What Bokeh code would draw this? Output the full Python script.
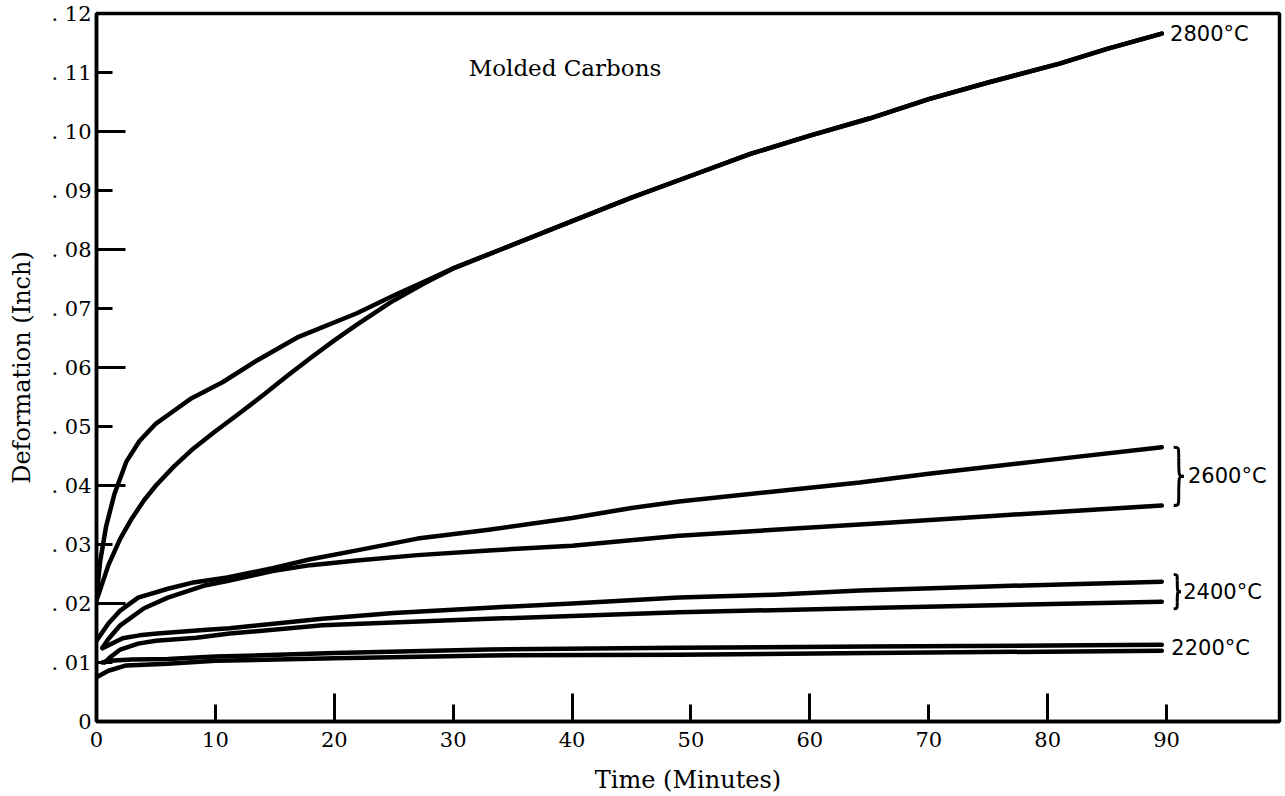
from bokeh.plotting import figure
from bokeh.models import Range1d, FixedTicker, CustomJSTickFormatter
from bokeh.core.properties import value
from bokeh.embed import file_html
from bokeh.resources import INLINE

# ---- data ----
t_2800_a = [0, 0.3, 0.8, 1.5, 2.5, 3.6, 5, 6.4, 8, 10.6, 13.5, 17, 21.9, 25, 27.5, 30, 34, 40, 45, 50, 55, 60, 65, 70, 75, 81, 85, 89.6]
d_2800_a = [0.021, 0.027, 0.033, 0.0385, 0.044, 0.0475, 0.0505, 0.0525, 0.0548, 0.0575, 0.0612, 0.0652, 0.0692, 0.0722, 0.0745, 0.0768, 0.080, 0.0848, 0.0888, 0.0925, 0.0962, 0.0993, 0.1022, 0.1055, 0.1083, 0.1115, 0.1140, 0.1166]
t_2800_b = [0, 0.5, 1, 2, 3, 4, 5, 6.5, 8, 10, 12, 14, 16, 18, 20, 22, 24.7, 27.5, 30, 34, 40, 45, 50, 55, 60, 65, 70, 75, 81, 85, 89.6]
d_2800_b = [0.0205, 0.0235, 0.0265, 0.031, 0.0345, 0.0375, 0.040, 0.0432, 0.046, 0.0492, 0.0522, 0.0553, 0.0585, 0.0616, 0.0646, 0.0674, 0.0710, 0.0742, 0.0768, 0.080, 0.0848, 0.0888, 0.0925, 0.0962, 0.0993, 0.1022, 0.1055, 0.1083, 0.1115, 0.1140, 0.1166]

t_2600_a = [0, 1, 2, 3.5, 6, 8, 11, 14.8, 18, 21.9, 27, 33, 40, 45, 49, 57, 64.2, 70, 80, 89.6]
d_2600_a = [0.0137, 0.0166, 0.0188, 0.021, 0.0225, 0.0235, 0.0244, 0.026, 0.0275, 0.029, 0.031, 0.0325, 0.0345, 0.0362, 0.0373, 0.039, 0.0405, 0.042, 0.0443, 0.0465]
t_2600_b = [0.5, 1, 2, 4, 6, 9, 11, 14.8, 18, 21.9, 27, 33, 40, 49, 57, 65.9, 75, 89.6]
d_2600_b = [0.0125, 0.014, 0.0163, 0.0192, 0.021, 0.023, 0.0238, 0.0255, 0.0265, 0.0273, 0.0282, 0.029, 0.0298, 0.0315, 0.0325, 0.0336, 0.0348, 0.0366]

t_2400_a = [0.5, 1.1, 2.2, 3.6, 5.1, 9, 11.2, 19, 25, 33, 40, 49, 57, 64.2, 75, 89.6]
d_2400_a = [0.0124, 0.013, 0.0141, 0.0146, 0.0149, 0.0155, 0.0158, 0.0174, 0.0184, 0.0193, 0.0200, 0.0210, 0.0215, 0.0222, 0.0229, 0.0237]
t_2400_b = [0.7, 1.1, 2, 3.5, 5, 8.4, 11.2, 19, 33, 49, 65.9, 89.6]
d_2400_b = [0.0100, 0.0108, 0.0122, 0.0132, 0.0137, 0.0142, 0.0149, 0.0163, 0.0174, 0.0185, 0.0193, 0.0203]

t_2200_a = [0.5, 1, 3, 6, 10, 20, 33, 49, 65, 89.6]
d_2200_a = [0.0100, 0.0103, 0.0105, 0.0106, 0.0110, 0.0116, 0.0122, 0.0125, 0.0127, 0.0130]
t_2200_b = [0, 1, 2.5, 6, 10, 20, 33, 49, 65, 89.6]
d_2200_b = [0.0075, 0.0086, 0.0095, 0.0098, 0.0103, 0.0107, 0.0112, 0.0113, 0.0116, 0.0120]

temp_labels = ["2800°C", "2600°C", "2400°C", "2200°C"]
x_ticks = [0, 10, 20, 30, 40, 50, 60, 70, 80, 90]
x_long_ticks = [20, 40, 60, 80]
y_ticks = [0, 0.01, 0.02, 0.03, 0.04, 0.05, 0.06, 0.07, 0.08, 0.09, 0.10, 0.11, 0.12]
y_long_ticks = [0.02, 0.04, 0.06, 0.08, 0.10]
title_text = "Molded Carbons"
x_title = "Time (Minutes)"
y_title = "Deformation (Inch)"

SERIF = "DejaVu Serif"
SANS = "DejaVu Sans"

p = figure(width=1285, height=796,
           x_range=Range1d(0, 99.5), y_range=Range1d(0, 0.12),
           output_backend="svg", toolbar_location=None,
           min_border_left=96, min_border_right=6,
           min_border_top=13, min_border_bottom=75)
p.background_fill_color = "white"
p.border_fill_color = "white"
p.outline_line_color = "black"
p.outline_line_width = 3.5
p.xgrid.visible = False
p.ygrid.visible = False

# x axis
xa = p.xaxis[0]
xa.ticker = FixedTicker(ticks=x_ticks, minor_ticks=x_long_ticks)
xa.axis_line_width = 3.5
xa.axis_line_color = "black"
xa.major_tick_in = 17
xa.major_tick_out = 0
xa.minor_tick_in = 28
xa.minor_tick_out = 0
xa.major_tick_line_width = 3
xa.minor_tick_line_width = 3
xa.major_tick_line_color = "black"
xa.minor_tick_line_color = "black"
xa.major_label_standoff = 10
xa.major_label_text_font = SERIF
xa.major_label_text_font_size = "21px"
xa.major_label_text_color = "black"
xa.axis_label = x_title
xa.axis_label_text_font = SERIF
xa.axis_label_text_font_style = "normal"
xa.axis_label_text_font_size = "24px"
xa.axis_label_text_color = "black"
xa.axis_label_standoff = 16

# y axis
ya = p.yaxis[0]
ya.ticker = FixedTicker(ticks=y_ticks, minor_ticks=y_long_ticks)
ya.formatter = CustomJSTickFormatter(code="""
if (Math.abs(tick) < 1e-9) { return '0'; }
return '. ' + String(Math.round(tick * 100)).padStart(2, '0');
""")
ya.axis_line_width = 3.5
ya.axis_line_color = "black"
ya.major_tick_in = 16
ya.major_tick_out = 0
ya.minor_tick_in = 29
ya.minor_tick_out = 0
ya.major_tick_line_width = 3
ya.minor_tick_line_width = 3
ya.major_tick_line_color = "black"
ya.minor_tick_line_color = "black"
ya.major_label_standoff = 5
ya.major_label_text_font = SERIF
ya.major_label_text_font_size = "21px"
ya.major_label_text_color = "black"
ya.axis_label = y_title
ya.axis_label_text_font = SERIF
ya.axis_label_text_font_style = "normal"
ya.axis_label_text_font_size = "24px"
ya.axis_label_text_color = "black"
ya.axis_label_standoff = 12

series = [(t_2800_a, d_2800_a), (t_2800_b, d_2800_b),
          (t_2600_a, d_2600_a), (t_2600_b, d_2600_b),
          (t_2400_a, d_2400_a), (t_2400_b, d_2400_b),
          (t_2200_a, d_2200_a), (t_2200_b, d_2200_b)]
for t, d in series:
    p.line(t, d, line_color="black", line_width=4.5, line_cap="round", line_join="round")

# braces for the paired curves
def brace(x0, yt, yb, w):
    xm = x0 + w / 2.0
    xt = x0 + w
    ym = (yt + yb) / 2.0
    dd = 0.18 * (yt - yb)
    p.bezier(x0=[x0, xm, xt, xm], y0=[yt, yt - dd, ym, yb + dd],
             x1=[xm, xt, xm, x0], y1=[yt - dd, ym, yb + dd, yb],
             cx0=[xm, xm, xm, xm], cy0=[yt, ym, ym, yb],
             cx1=[xm, xm, xm, xm], cy1=[yt, ym, ym, yb],
             line_color="black", line_width=3)

brace(t_2600_a[-1] + 1.0, d_2600_a[-1], d_2600_b[-1], 0.85)
brace(t_2400_a[-1] + 1.0, d_2400_a[-1] + 0.0012, d_2400_b[-1] - 0.0012, 0.6)

# temperature labels
lx = [t_2800_a[-1] + 0.7, t_2600_a[-1] + 2.2, t_2400_a[-1] + 1.8, t_2200_a[-1] + 0.8]
ly = [d_2800_a[-1],
      (d_2600_a[-1] + d_2600_b[-1]) / 2.0,
      (d_2400_a[-1] + d_2400_b[-1]) / 2.0,
      (d_2200_a[-1] + d_2200_b[-1]) / 2.0]
p.text(x=lx, y=ly, text=temp_labels, text_font=value(SANS), text_font_size="21px",
       text_align="left", text_baseline="middle", text_color="black")

p.text(x=[31.3], y=[0.1108], text=[title_text], text_font=value(SERIF),
       text_font_size="23px", text_align="left", text_baseline="middle", text_color="black")

open("out.html", "w").write(file_html(p, INLINE))
